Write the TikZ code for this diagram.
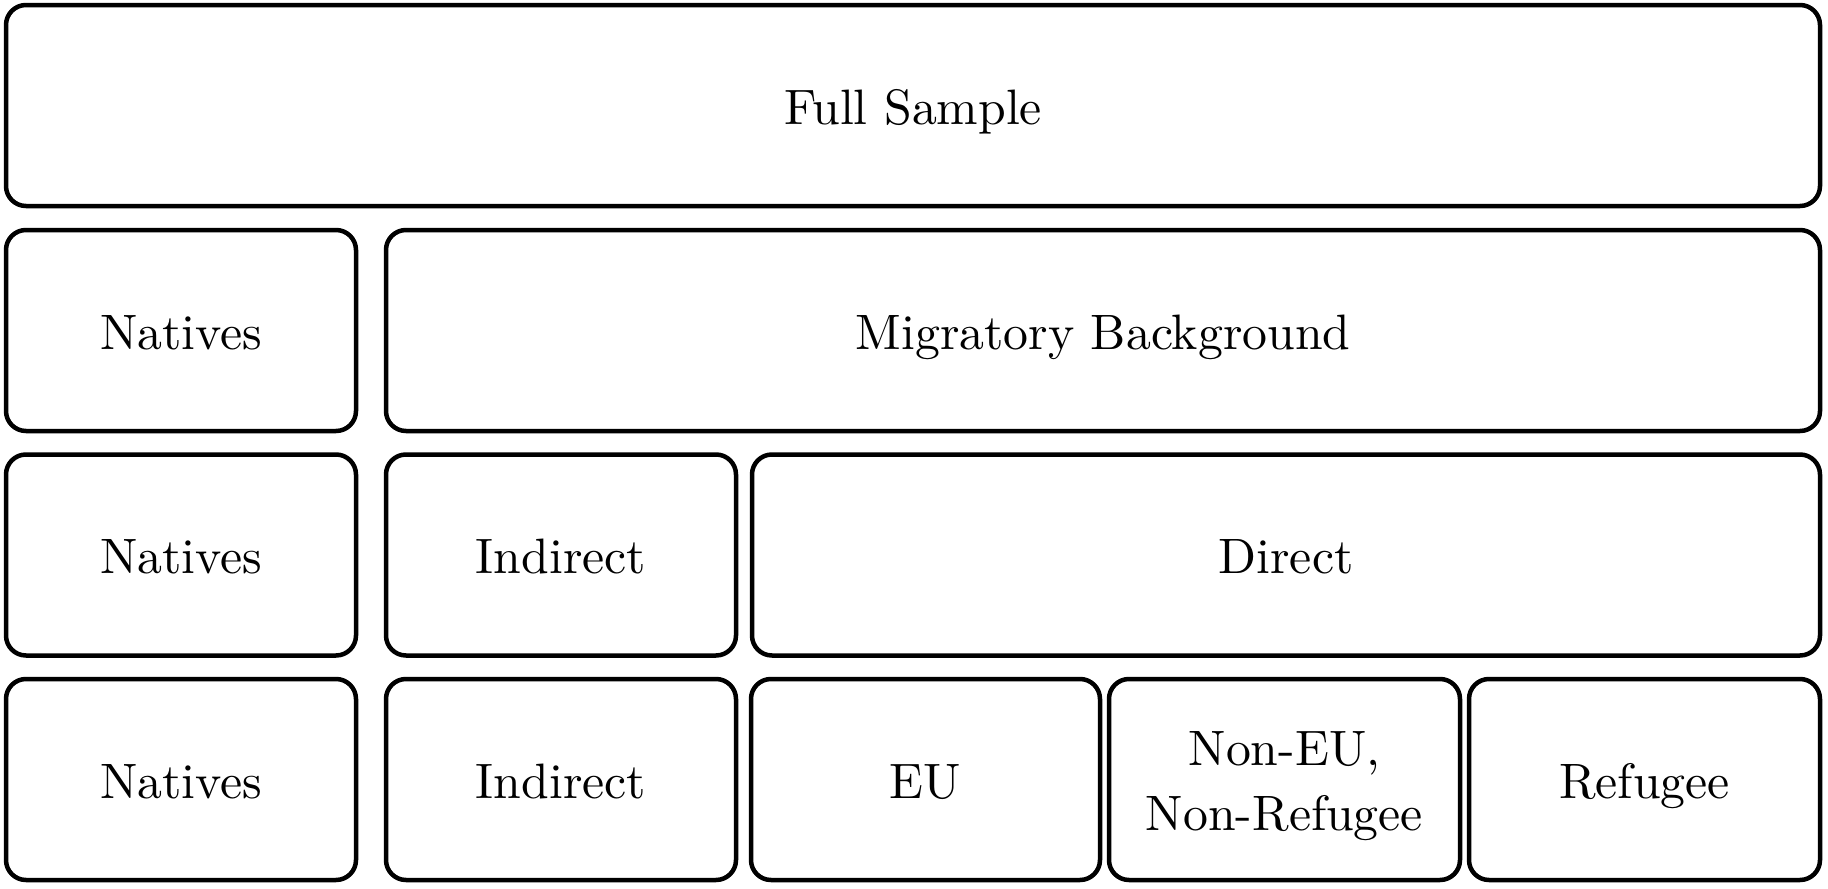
\documentclass[tikz,border=0pt]{standalone}
\usepackage{fontspec}
% 10pt design size of Latin Modern, scaled up
\newfontfamily\tenrm{lmroman10-regular.otf}
\begin{document}
\begin{tikzpicture}[x=0.5pt, y=-0.5pt,
  cell/.style={draw=black, line width=2.25pt, rounded corners=10pt, rectangle,
    inner sep=0pt, minimum height=100.5pt, align=center,
    font=\tenrm\fontsize{24.88}{32.5}\selectfont},
  oneline/.style={cell, text height=18.5pt, text depth=0pt},
  twoline/.style={cell, text height=50.5pt, text depth=0pt},
  unitcol/.style={oneline, minimum width=175pt}]
  \useasboundingbox (0,0) rectangle (1828,889);
  % level 0
  \node[oneline, minimum width=907pt] (full) at (913,105.5) {Full Sample};
  % level 1
  \node[unitcol] (nat1) at (181,330.5) {Natives};
  \node[oneline, minimum width=717pt] (mig) at (1103,330.5) {Migratory Background};
  % level 2
  \node[unitcol] (nat2) at (181,555) {Natives};
  \node[unitcol] (ind2) at (561,555) {Indirect};
  \node[oneline, minimum width=534pt] (dir) at (1286,555) {Direct};
  % level 3
  \node[unitcol] (nat3) at (181,779.5) {Natives};
  \node[unitcol] (ind3) at (561,779.5) {Indirect};
  \node[oneline, minimum width=174.5pt] (eu) at (925.5,779.5) {EU};
  \node[twoline, minimum width=175.5pt] (noneu) at (1284.5,779.5) {Non-EU,\\Non-Refugee};
  \node[oneline, minimum width=175.5pt] (ref) at (1644.5,779.5) {Refugee};
\end{tikzpicture}
\end{document}
